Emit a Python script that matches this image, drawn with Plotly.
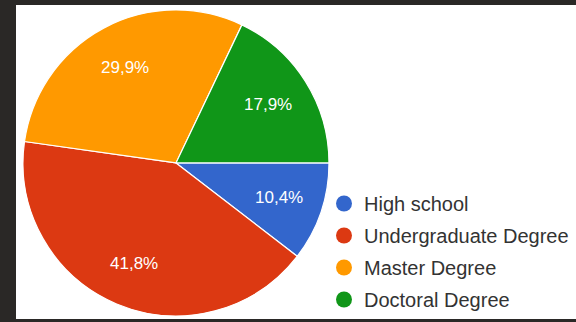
import math
import plotly.graph_objects as go

labels = ["High school", "Undergraduate Degree", "Master Degree", "Doctoral Degree"]
counts = [7, 28, 20, 12]
colors = ["#3366cc", "#dc3912", "#ff9900", "#109618"]

W, H = 576, 322
ML, MR, MT, MB = 16, 0, 5, 3
PW, PH = W - ML - MR, H - MT - MB
dom_x = [0.0125, 0.5589]
dom_y = [0.0095, 0.9845]

fig = go.Figure()
fig.add_trace(go.Pie(
    labels=labels, values=counts, sort=False, direction="clockwise", rotation=90,
    marker=dict(colors=colors, line=dict(color="white", width=1.2)),
    textinfo="none",
    domain=dict(x=dom_x, y=dom_y),
    showlegend=False, hoverinfo="label+percent",
))
for lab, col in zip(labels, colors):
    fig.add_trace(go.Scatter(
        x=[None], y=[None], mode="markers", name=lab, legendgroup=lab,
        marker=dict(color=col, size=17, symbol="circle"),
    ))

# percentage labels placed at the middle angle of each slice
total = sum(counts)
r_px = min((dom_x[1] - dom_x[0]) * PW, (dom_y[1] - dom_y[0]) * PH) / 2
cx = (dom_x[0] + dom_x[1]) / 2
cy = (dom_y[0] + dom_y[1]) / 2
annotations = []
start = 90.0
for c in counts:
    span = 360.0 * c / total
    mid = math.radians(start + span / 2)
    start += span
    dx = math.sin(mid) * 0.71 * r_px
    dy = math.cos(mid) * 0.71 * r_px
    txt = f"{100 * c / total:.1f}%".replace(".", ",")
    annotations.append(dict(
        x=cx + dx / PW, y=cy + dy / PH, xref="paper", yref="paper",
        text=txt, showarrow=False, xanchor="center", yanchor="middle",
        font=dict(family="Liberation Sans, Arial", size=17, color="white"),
    ))

fig.update_layout(
    width=W, height=H, separators=",.",
    paper_bgcolor="#2a2826",
    margin=dict(l=ML, r=MR, t=MT, b=MB, autoexpand=False),
    xaxis=dict(visible=False), yaxis=dict(visible=False),
    plot_bgcolor="white",
    showlegend=True,
    legend=dict(x=0.55, xanchor="left", y=0.43, yanchor="top",
                font=dict(family="Liberation Sans, Arial", size=20, color="#333333"),
                tracegroupgap=3, bgcolor="rgba(0,0,0,0)", itemsizing="trace"),
    annotations=annotations,
    shapes=[dict(type="rect", xref="paper", yref="paper", x0=0, x1=1, y0=0, y1=1,
                 fillcolor="white", line=dict(width=0), layer="below")],
)
fig.write_html(
    "out.html",
    config={"displayModeBar": False},
    post_script="document.body.style.margin='0';document.body.style.background='#2a2826';",
)
